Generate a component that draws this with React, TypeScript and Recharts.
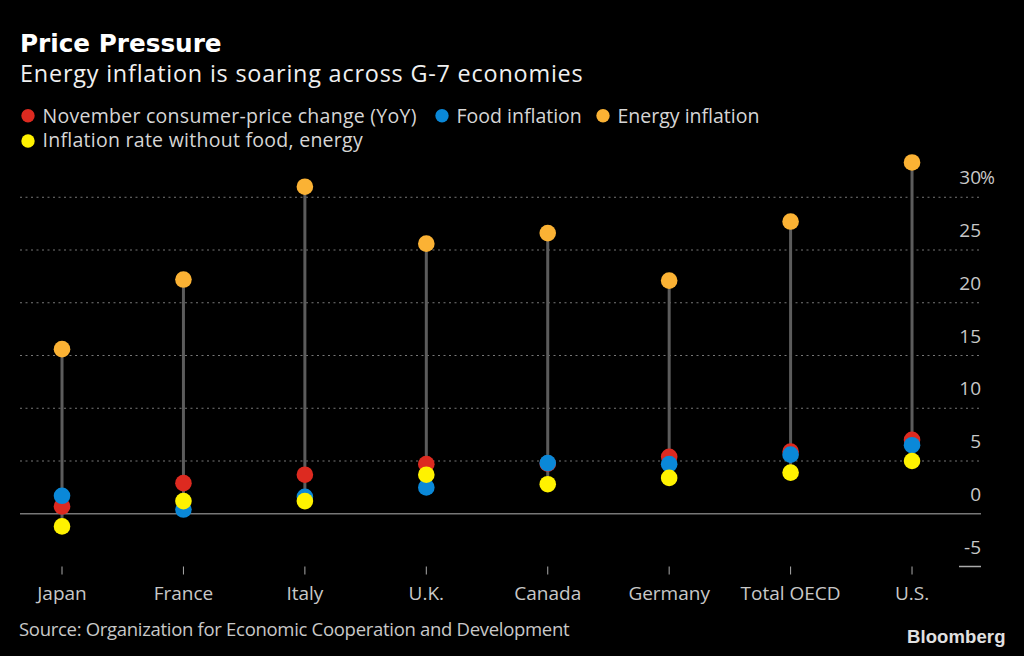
import React from 'react';
import { ComposedChart, Scatter, XAxis, YAxis, CartesianGrid, ReferenceLine } from 'recharts';

// G-7 November CPI breakdown, % YoY
const categories = ['Japan', 'France', 'Italy', 'U.K.', 'Canada', 'Germany', 'Total OECD', 'U.S.'];
const headline = [0.7, 2.9, 3.7, 4.7, 4.75, 5.4, 5.9, 7.0];
const food = [1.7, 0.4, 1.6, 2.5, 4.8, 4.7, 5.6, 6.5];
const energy = [15.6, 22.2, 31.0, 25.6, 26.6, 22.1, 27.7, 33.3];
const core = [-1.2, 1.2, 1.2, 3.7, 2.8, 3.4, 3.9, 5.0];

const yTicks = [-5, 0, 5, 10, 15, 20, 25, 30];
const gridValues = [5, 10, 15, 20, 25, 30];
const xTicks = categories.map((_, i) => i);

const RED = '#dd2a20';
const BLUE = '#0a88d8';
const ORANGE = '#fbb234';
const YELLOW = '#fff200';
const FONT = '"Open Sans", sans-serif';

const toPoints = (values: number[]) => values.map((y, i) => ({ x: i, y }));

const stems = categories.map((_, i) => {
  const vals = [headline[i], food[i], energy[i], core[i]];
  return [
    { x: i, y: Math.min(...vals) },
    { x: i, y: Math.max(...vals) },
  ];
});

const dot = (color: string) => (props: any) => (
  <circle cx={props.cx} cy={props.cy} r={8.3} fill={color} />
);

const YTick = (props: any) => {
  const { x, y, payload } = props;
  const v = payload.value;
  return (
    <g>
      {v === -5 && <line x1={x - 22} x2={x} y1={y} y2={y} stroke="#aaa" strokeWidth={1.5} />}
      <text x={x} y={y - 13} textAnchor="end" fill="#c8c8c8" fontSize={19} fontFamily={FONT}>
        {v}
      </text>
      {v === 30 && (
        <text x={x - 1} y={y - 13} textAnchor="start" fill="#c8c8c8" fontSize={18} fontFamily={FONT}>
          %
        </text>
      )}
    </g>
  );
};

const legendRow1 = [
  { color: RED, label: 'November consumer-price change (YoY)', x: 28, spacing: 0.27 },
  { color: BLUE, label: 'Food inflation', x: 442, spacing: 0 },
  { color: ORANGE, label: 'Energy inflation', x: 603, spacing: 0 },
];

export default function App() {
  return (
    <div style={{ position: 'absolute', left: 0, top: 0, width: 1024, height: 656, background: '#000' }}>
      <div style={{ position: 'absolute', left: 0, top: 0 }}>
        <ComposedChart width={1024} height={656} margin={{ top: 144.5, right: 0, left: 20, bottom: 59.5 }}>
          <CartesianGrid
            horizontal
            vertical={false}
            horizontalValues={gridValues}
            stroke="#777"
            strokeDasharray="2 3.5"
          />
          <ReferenceLine y={0} stroke="#777" strokeWidth={1.5} />
          <XAxis
            type="number"
            dataKey="x"
            domain={[-0.346, 7.568]}
            ticks={xTicks}
            interval={0}
            tickFormatter={(i: number) => categories[i]}
            axisLine={false}
            tickSize={8}
            tickMargin={12}
            tickLine={{ stroke: '#aaa' }}
            tick={{ fill: '#c8c8c8', fontSize: 19, fontFamily: FONT }}
            height={30}
            allowDataOverflow
          />
          <YAxis
            type="number"
            dataKey="y"
            orientation="right"
            domain={[-5, 35]}
            ticks={yTicks}
            interval={0}
            axisLine={false}
            tickLine={false}
            tickSize={0}
            tickMargin={0}
            width={43}
            tick={<YTick />}
            allowDataOverflow
          />
          {stems.map((d, i) => (
            <Scatter
              key={categories[i]}
              data={d}
              line={{ stroke: '#5c5c5c', strokeWidth: 3 }}
              shape={() => <g />}
              isAnimationActive={false}
            />
          ))}
          <Scatter data={toPoints(headline)} shape={dot(RED)} isAnimationActive={false} />
          <Scatter data={toPoints(food)} shape={dot(BLUE)} isAnimationActive={false} />
          <Scatter data={toPoints(core)} shape={dot(YELLOW)} isAnimationActive={false} />
          <Scatter data={toPoints(energy)} shape={dot(ORANGE)} isAnimationActive={false} />
        </ComposedChart>
      </div>
      <svg width={1024} height={656} style={{ position: 'absolute', left: 0, top: 0, pointerEvents: 'none' }}>
        <text x={20} y={52.3} fill="#fff" fontSize={24.7} fontWeight={700} fontFamily='"DejaVu Sans", sans-serif'>
          Price Pressure
        </text>
        <text x={20} y={81.7} fill="#f0f0f0" fontSize={23.4} letterSpacing={0.8} fontFamily={FONT}>
          Energy inflation is soaring across G-7 economies
        </text>
        {legendRow1.map((l) => (
          <g key={l.label}>
            <circle cx={l.x} cy={115.7} r={6.7} fill={l.color} />
            <text x={l.x + 14.5} y={123.3} fill="#d6d6d6" fontSize={19.5} letterSpacing={l.spacing} fontFamily={FONT}>
              {l.label}
            </text>
          </g>
        ))}
        <circle cx={28} cy={141} r={6.7} fill={YELLOW} />
        <text x={42.5} y={146.7} fill="#d6d6d6" fontSize={19.5} letterSpacing={0.27} fontFamily={FONT}>
          Inflation rate without food, energy
        </text>
        <text x={19} y={636} fill="#c8c8c8" fontSize={18.5} letterSpacing={-0.3} fontFamily={FONT}>
          Source: Organization for Economic Cooperation and Development
        </text>
        <text x={907} y={643.3} fill="#e0e0e0" fontSize={18.5} fontWeight={700} fontFamily='"Liberation Sans", Arial, sans-serif' letterSpacing={0.1}>
          Bloomberg
        </text>
      </svg>
    </div>
  );
}
